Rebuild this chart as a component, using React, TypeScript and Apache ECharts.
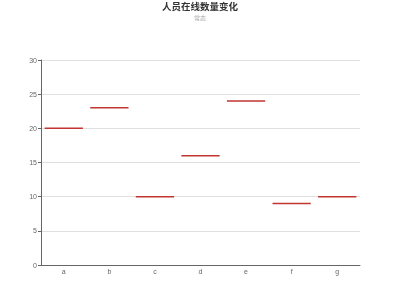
import React, { useEffect, useRef } from "react";
import * as echarts from "echarts";

const categories = ["a", "b", "c", "d", "e", "f", "g"];
const values = [20, 23, 10, 16, 24, 9, 10];
const titleText = "人员在线数量变化";
const subText = "常态";

export default function App() {
  const ref = useRef<HTMLDivElement>(null);
  useEffect(() => {
    const chart = echarts.init(ref.current!, null, { renderer: "svg" });
    chart.setOption({
      animation: false,
      title: {
        text: titleText,
        subtext: subText,
        left: "center",
        top: 0,
        padding: 0,
        itemGap: 1,
        textStyle: { fontSize: 9.5, lineHeight: 12, fontWeight: "bold", color: "#333", fontFamily: "Noto Sans CJK SC" },
        subtextStyle: { fontSize: 6, lineHeight: 8, color: "#aaa", fontFamily: "Noto Sans CJK SC" },
      },
      grid: { left: 41, right: 40, top: 60, bottom: 35 },
      xAxis: {
        type: "category",
        data: categories,
        axisLine: { lineStyle: { color: "#666" } },
        axisTick: { lineStyle: { color: "#666" } },
        axisLabel: { fontSize: 7, color: "#666", margin: 3 },
      },
      yAxis: {
        type: "value",
        min: 0,
        max: 30,
        interval: 5,
        axisLine: { show: true, lineStyle: { color: "#666" } },
        axisTick: { show: true, length: 3, lineStyle: { color: "#666" } },
        axisLabel: { fontSize: 7, color: "#666", margin: 4 },
        splitLine: { lineStyle: { color: "#e0e0e0" } },
      },
      series: [
        {
          type: "custom",
          data: values.map((v, i) => [i, v]),
          encode: { x: 0, y: 1 },
          renderItem: (params: any, api: any) => {
            const p = api.coord([api.value(0), api.value(1)]);
            const w = api.size([1, 0])[0] * 0.84;
            return {
              type: "line",
              shape: { x1: p[0] - w / 2, y1: p[1], x2: p[0] + w / 2, y2: p[1] },
              style: { stroke: "#c23531", lineWidth: 1.5 },
            };
          },
        },
      ],
    });
    return () => chart.dispose();
  }, []);
  return <div ref={ref} style={{ position: "fixed", left: 0, top: 0, width: 400, height: 300 }} />;
}
